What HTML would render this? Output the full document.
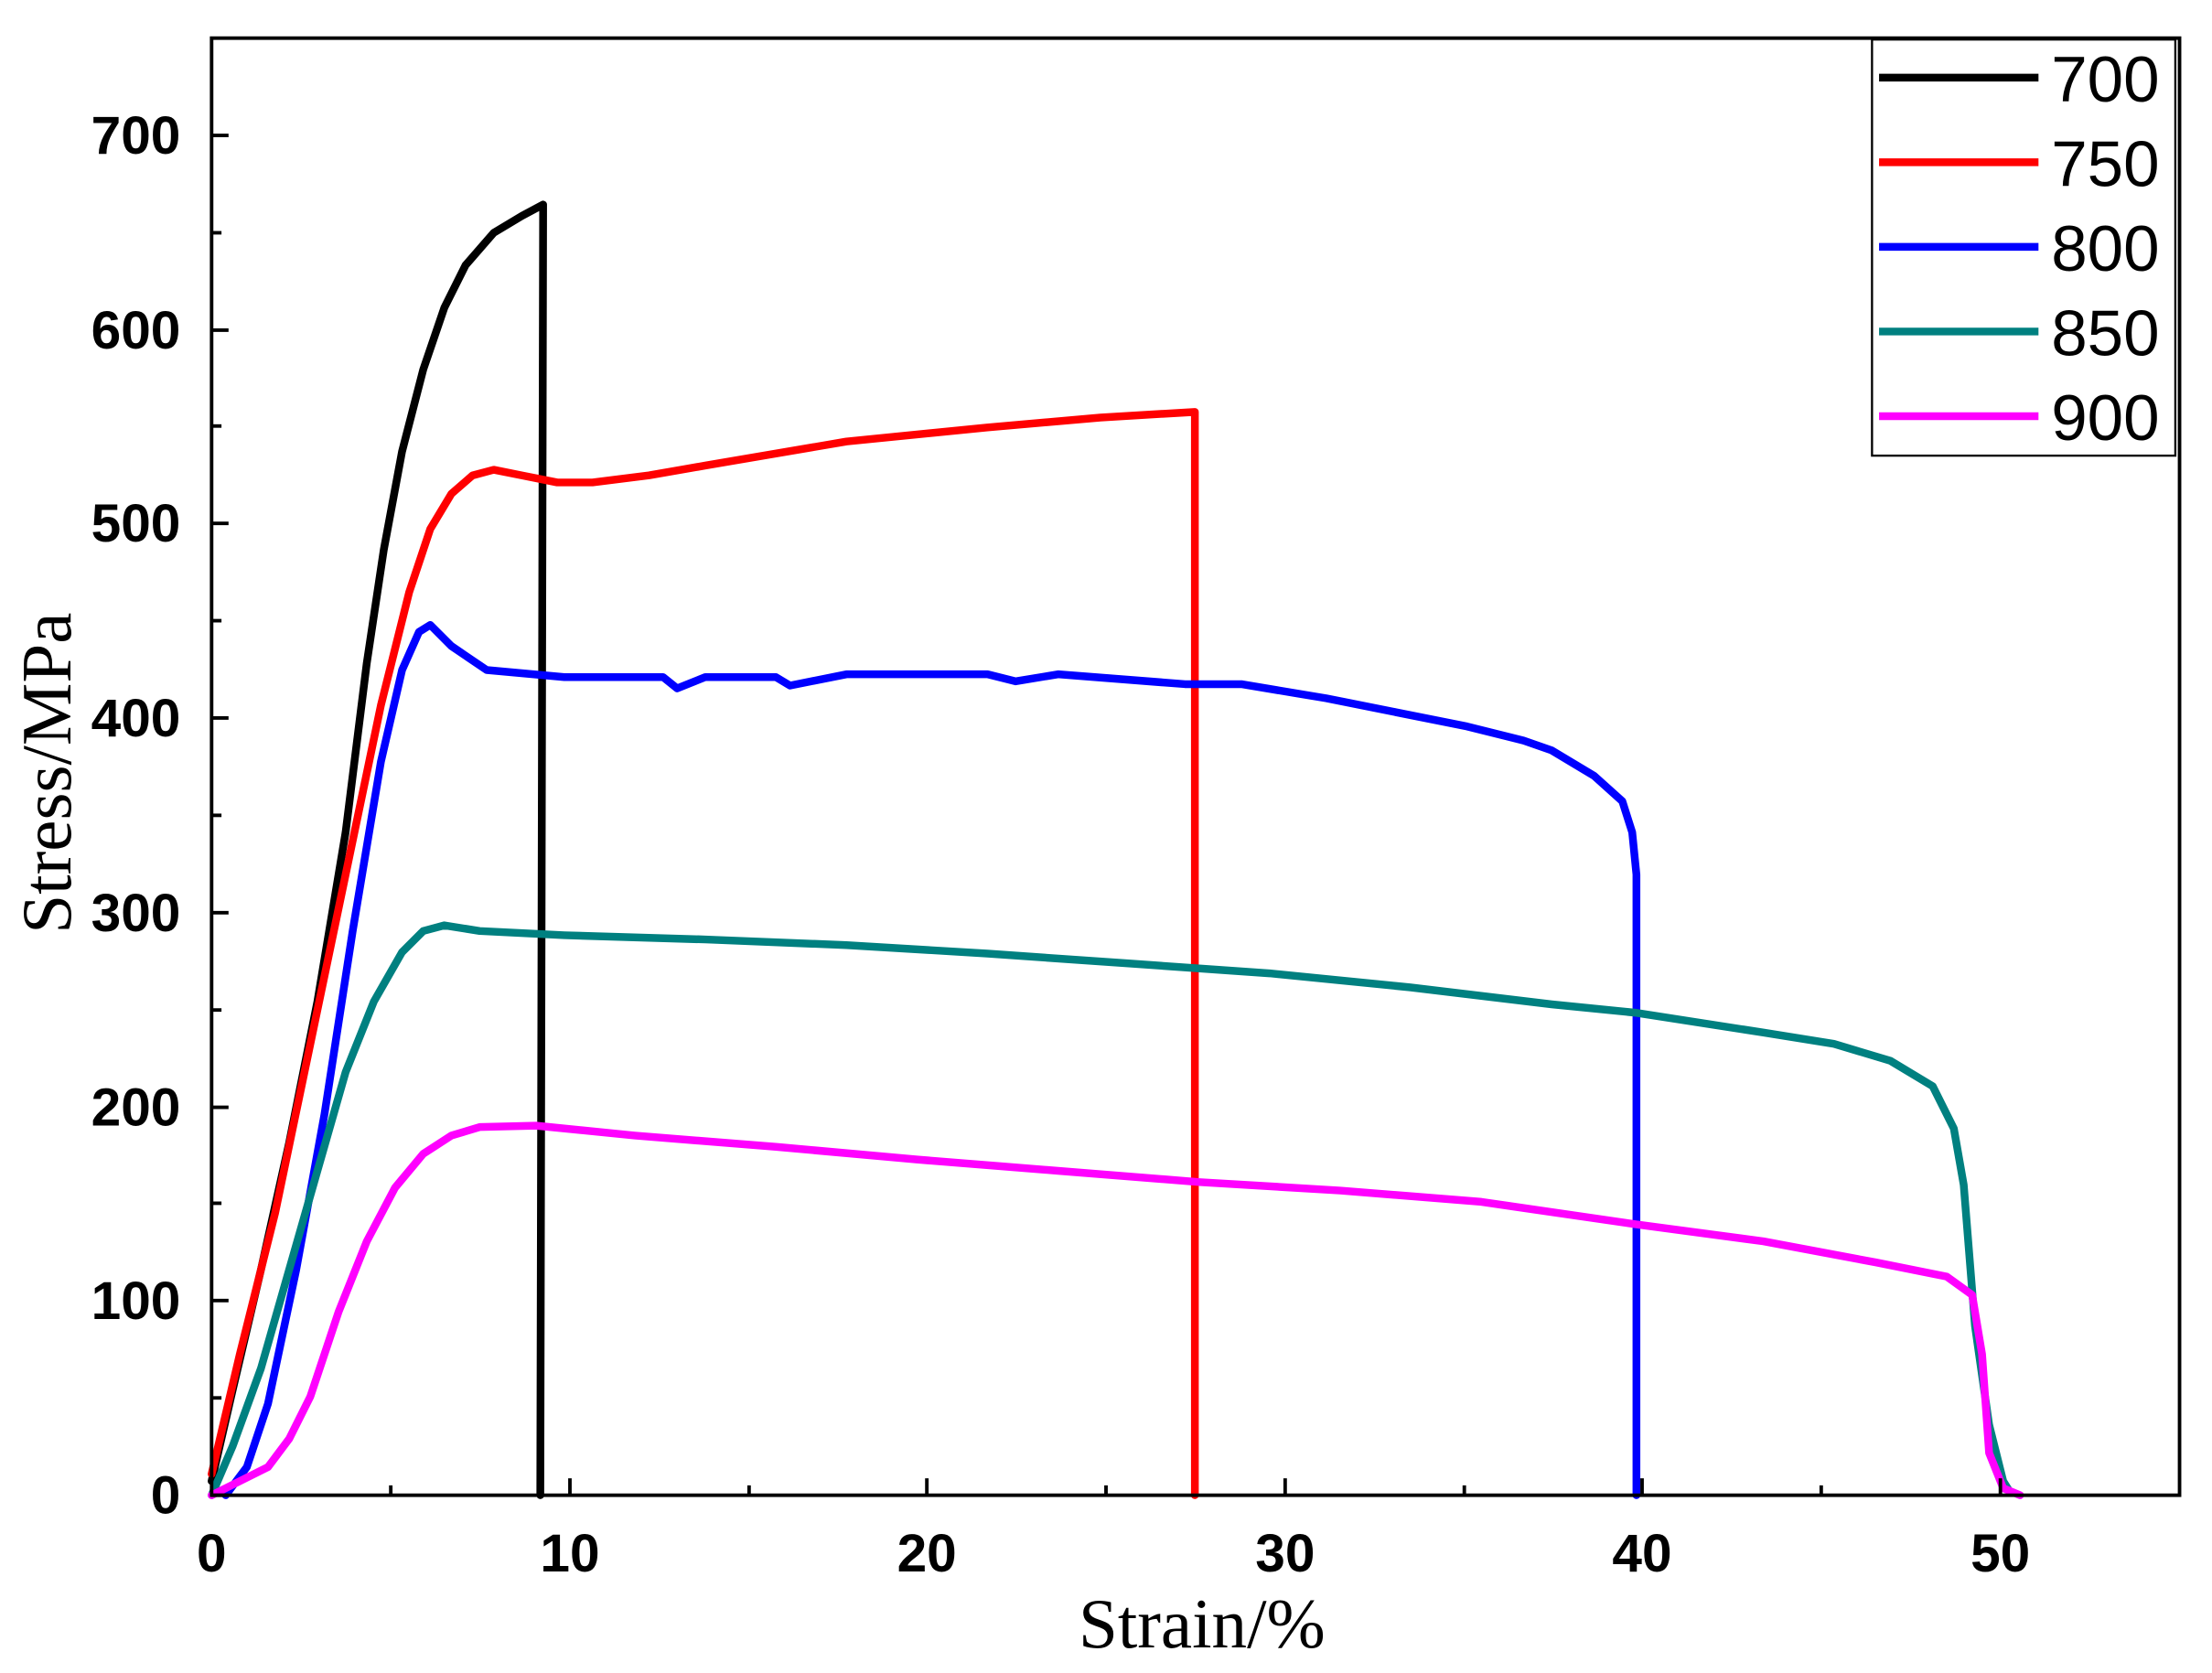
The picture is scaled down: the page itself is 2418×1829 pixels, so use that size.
<!DOCTYPE html>
<html><head><meta charset="utf-8"><style>
html,body{margin:0;padding:0;background:#fff;}
svg{display:block;}
.tl{font-family:"Liberation Sans",sans-serif;font-weight:bold;font-size:38px;fill:#000;}
.lg{font-family:"Liberation Sans",sans-serif;font-size:46px;fill:#000;}
.at{font-family:"Liberation Serif",serif;font-size:50px;fill:#000;}
</style></head><body>
<svg width="2418" height="1829" viewBox="0 0 1568 1186" xmlns="http://www.w3.org/2000/svg">
<rect x="0" y="0" width="1568" height="1186" fill="#fff"/>
<g fill="none" stroke-width="5.5" stroke-linejoin="round" stroke-linecap="round">
<polyline stroke="#000" points="150,1050 165,985 185,900 205,810 225,710 245,590 260,470 272,390 285,320 300,262 315,218 330,188 350,165 370,153 385,145 383,1060"/>
<polyline stroke="#f00" points="150,1045 170,960 195,860 220,740 245,620 270,500 290,420 305,375 320,350 335,337 350,333 370,337 395,342 420,342 460,337 500,330 600,313 700,303 780,296 847,292 847,1060"/>
<polyline stroke="#00f" points="160,1060 175,1040 190,995 210,900 230,790 250,660 270,540 285,475 297,448 305,443 320,458 345,475 400,480 470,480 480,488 500,480 550,480 560,486 600,478 700,478 720,483 750,478 840,485 880,485 940,495 990,505 1040,515 1080,525 1100,532 1130,550 1150,568 1157,590 1160,620 1160,1060"/>
<polyline stroke="#008080" points="150,1060 165,1025 185,970 205,900 225,830 245,760 265,710 285,675 300,660 315,656 340,660 400,663 500,666 600,670 700,676 800,683 900,690 1000,700 1100,712 1160,718 1250,732 1300,740 1340,752 1370,770 1385,800 1392,840 1400,940 1410,1010 1420,1050 1425,1058"/>
<polyline stroke="#f0f" points="150,1060 170,1050 190,1040 205,1020 220,990 240,930 260,880 280,842 300,818 320,805 340,799 380,798 450,805 550,813 650,822 750,830 850,838 950,844 1050,852 1160,868 1250,880 1330,895 1380,905 1398,918 1405,960 1410,1030 1420,1055 1432,1060"/>
</g>
<rect x="150" y="27" width="1395" height="1033" fill="none" stroke="#000" stroke-width="2.5"/>
<g stroke="#000" stroke-width="2.5">
<line x1="150" y1="1060" x2="162" y2="1060"/><line x1="150" y1="991" x2="157" y2="991"/>
<line x1="150" y1="922" x2="162" y2="922"/><line x1="150" y1="853" x2="157" y2="853"/>
<line x1="150" y1="785" x2="162" y2="785"/><line x1="150" y1="716" x2="157" y2="716"/>
<line x1="150" y1="647" x2="162" y2="647"/><line x1="150" y1="578" x2="157" y2="578"/>
<line x1="150" y1="509" x2="162" y2="509"/><line x1="150" y1="440" x2="157" y2="440"/>
<line x1="150" y1="371" x2="162" y2="371"/><line x1="150" y1="302" x2="157" y2="302"/>
<line x1="150" y1="234" x2="162" y2="234"/><line x1="150" y1="165" x2="157" y2="165"/>
<line x1="150" y1="96" x2="162" y2="96"/>
<line x1="277" y1="1060" x2="277" y2="1053"/><line x1="404" y1="1060" x2="404" y2="1048"/>
<line x1="531" y1="1060" x2="531" y2="1053"/><line x1="657" y1="1060" x2="657" y2="1048"/>
<line x1="784" y1="1060" x2="784" y2="1053"/><line x1="911" y1="1060" x2="911" y2="1048"/>
<line x1="1038" y1="1060" x2="1038" y2="1053"/><line x1="1164" y1="1060" x2="1164" y2="1048"/>
<line x1="1291" y1="1060" x2="1291" y2="1053"/><line x1="1418" y1="1060" x2="1418" y2="1048"/>
</g>
<g class="tl" text-anchor="end">
<text x="128" y="1073">0</text><text x="128" y="935">100</text><text x="128" y="798">200</text>
<text x="128" y="660">300</text><text x="128" y="522">400</text><text x="128" y="384">500</text>
<text x="128" y="247">600</text><text x="128" y="109">700</text>
</g>
<g class="tl" text-anchor="middle">
<text x="150" y="1114">0</text><text x="404" y="1114">10</text><text x="657" y="1114">20</text>
<text x="911" y="1114">30</text><text x="1164" y="1114">40</text><text x="1418" y="1114">50</text>
</g>
<text class="at" x="852" y="1168" text-anchor="middle">Strain/%</text>
<text class="at" transform="translate(50,548) rotate(-90)" text-anchor="middle">Stress/MPa</text>
<rect x="1327" y="28" width="215" height="295" fill="#fff" stroke="#000" stroke-width="1.5"/>
<g stroke-width="5.5">
<line x1="1332" y1="55" x2="1445" y2="55" stroke="#000"/>
<line x1="1332" y1="115" x2="1445" y2="115" stroke="#f00"/>
<line x1="1332" y1="175" x2="1445" y2="175" stroke="#00f"/>
<line x1="1332" y1="235" x2="1445" y2="235" stroke="#008080"/>
<line x1="1332" y1="295" x2="1445" y2="295" stroke="#f0f"/>
</g>
<g class="lg">
<text x="1454" y="72">700</text><text x="1454" y="132">750</text><text x="1454" y="192">800</text>
<text x="1454" y="252">850</text><text x="1454" y="312">900</text>
</g>
</svg>
</body></html>
